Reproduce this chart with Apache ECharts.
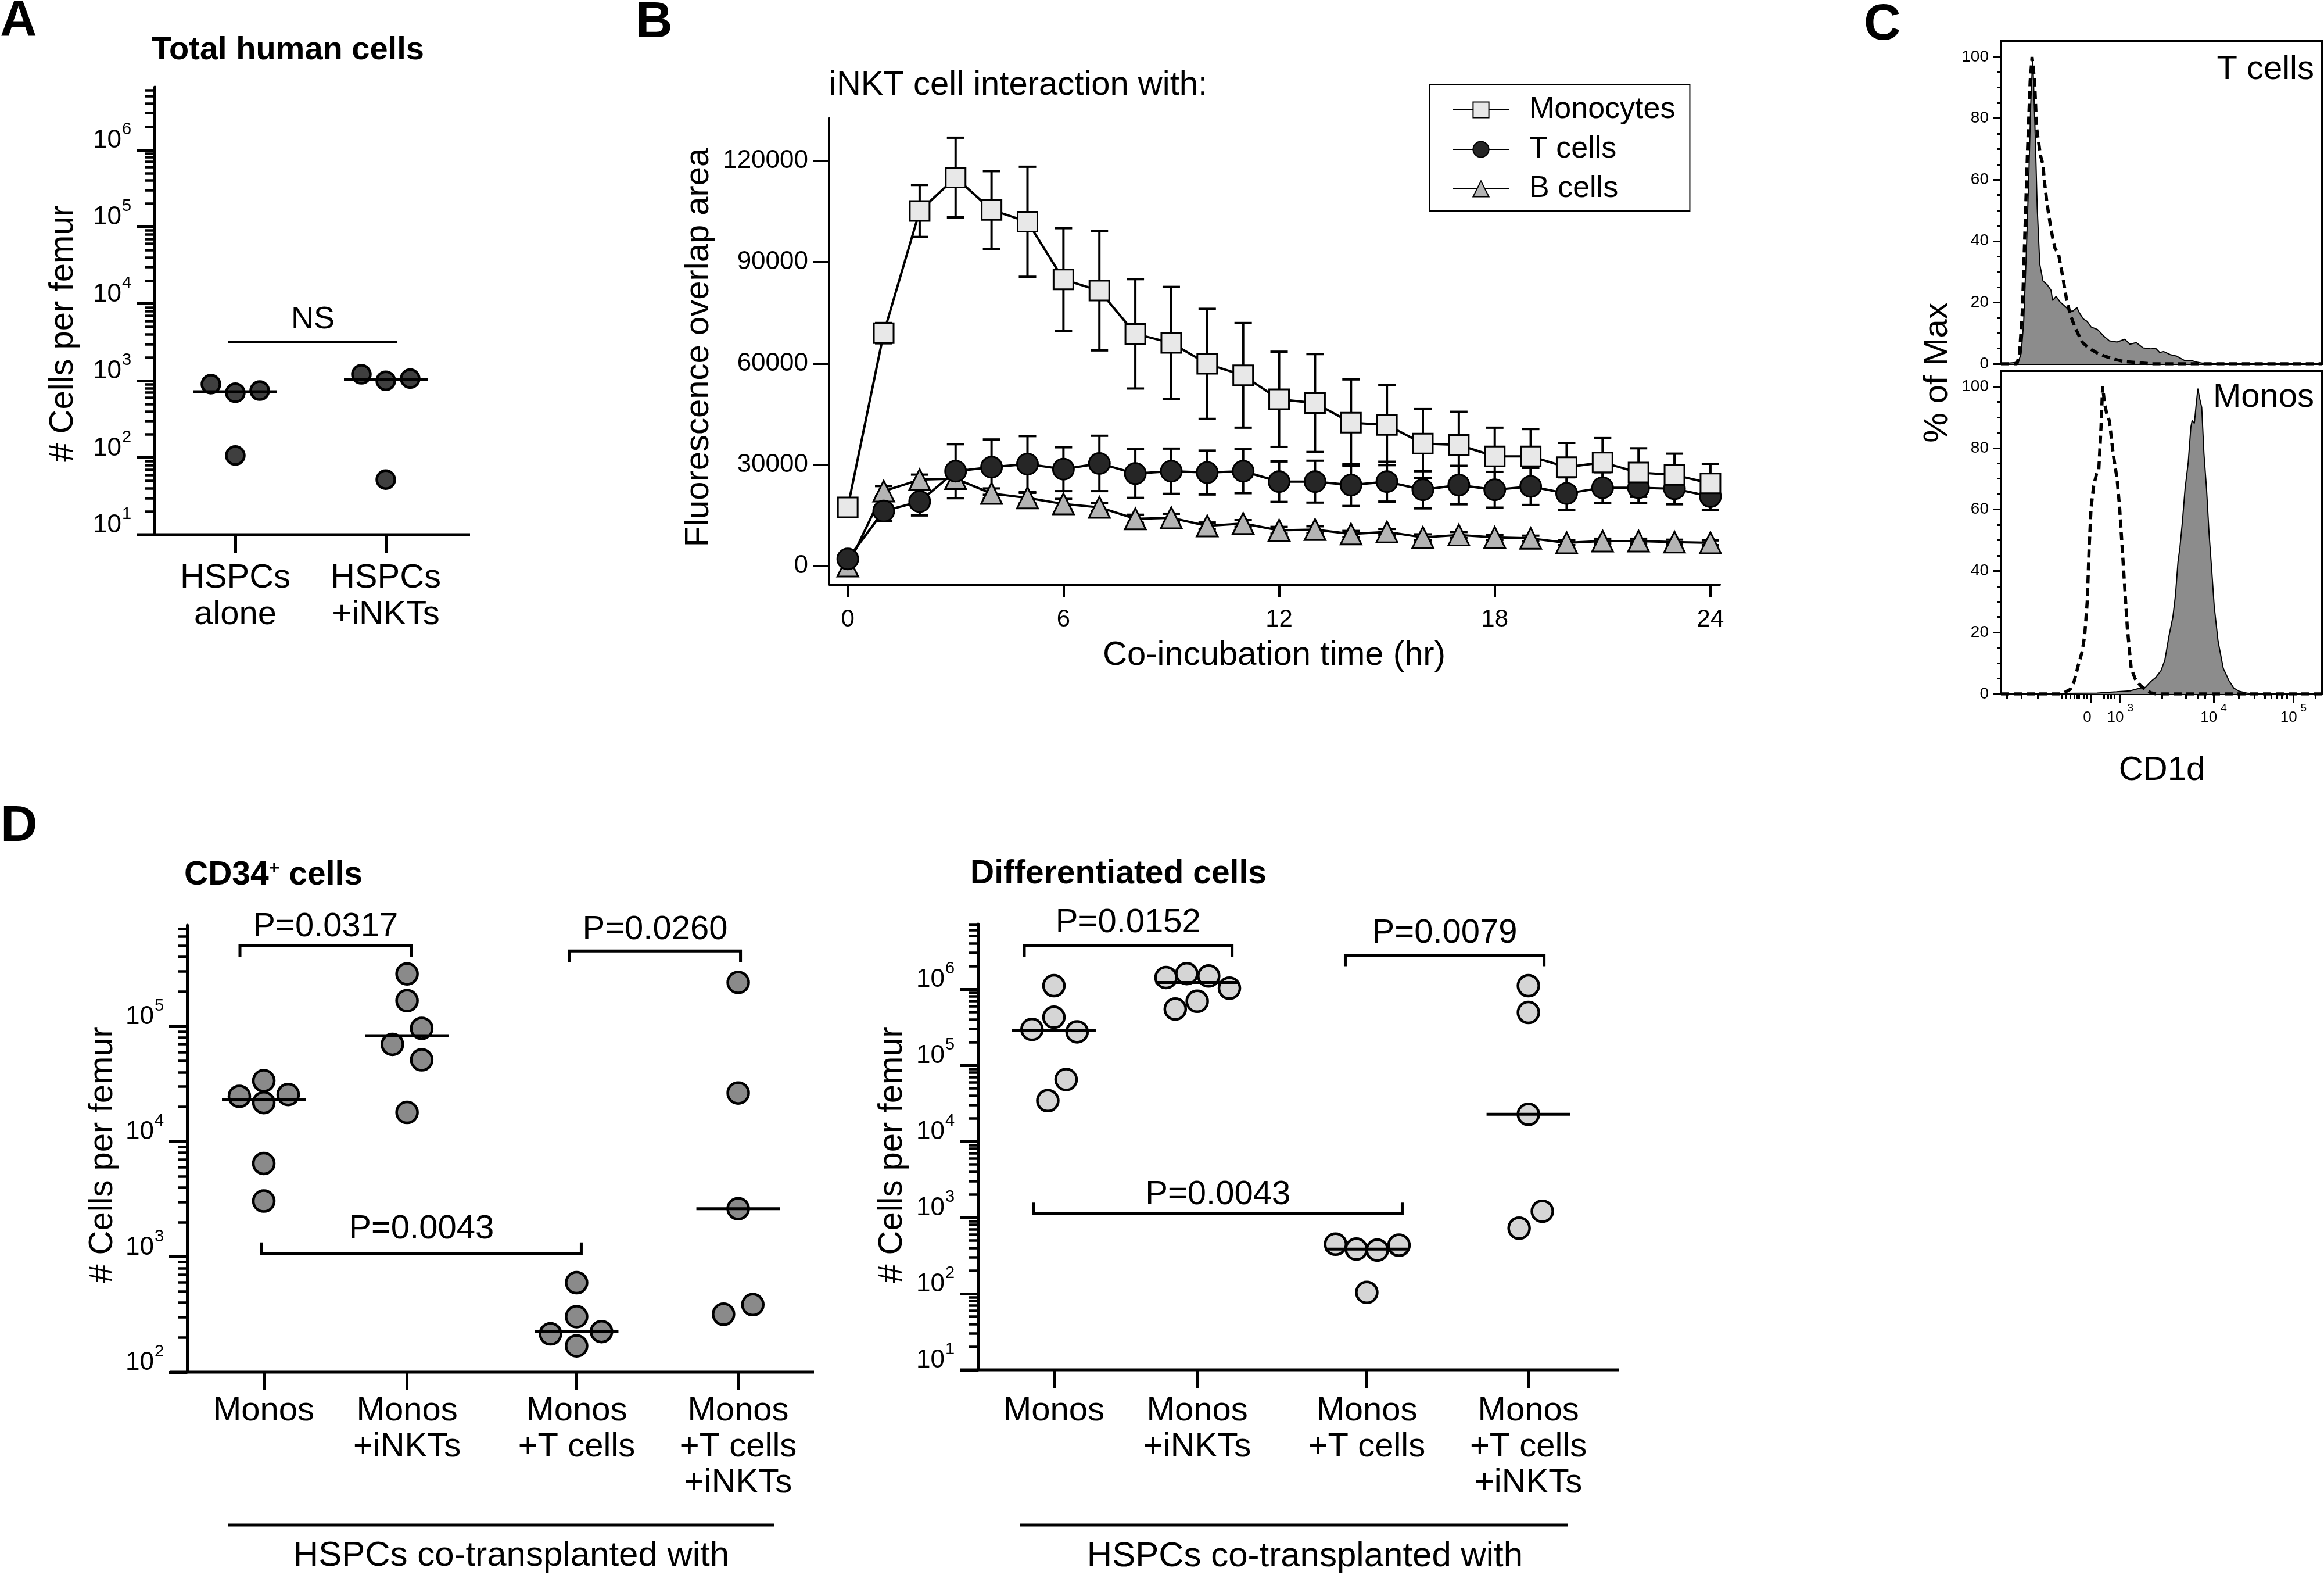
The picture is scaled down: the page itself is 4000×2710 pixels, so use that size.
<!DOCTYPE html>
<html><head><meta charset="utf-8">
<script src="https://cdn.jsdelivr.net/npm/echarts@6/dist/echarts.min.js"></script>
<style>html,body{margin:0;padding:0;background:#fff}#c{width:4000px;height:2710px}</style>
</head><body><div id="c"></div>
<script>
// ===================== DATA =====================
// Panel A: total human cells per femur
const aCategories = ['HSPCs\nalone', 'HSPCs\n+iNKTs'];
const aHSPCsAlone = [903, 699, 745, 107];
const aHSPCsINKTs = [1212, 1000, 1066, 52];
const aYTicks = [10, 100, 1000, 10000, 100000, 1000000];
const aBrackets = [{ from: 0, to: 1, value: 3190, label: 'NS', dir: 'none' }];

// Panel B: fluorescence overlap area vs co-incubation time
const bHours = [0,1,2,3,4,5,6,7,8,9,10,11,12,13,14,15,16,17,18,19,20,21,22,23,24];
const bMonocytes = [17400,69000,105200,115100,105500,102000,84900,81600,68800,66100,59900,56500,49400,48300,42500,41800,36300,35900,32500,32500,29300,30700,27700,27000,24500];
const bMonocytesErr = [0,3000,7700,11800,11500,16300,15200,17700,16200,16600,16300,15500,14100,14500,12800,11900,10200,9800,8500,8100,7200,7200,7200,6300,5800];
const bTcells = [2100,16300,19100,28100,29300,30200,28700,30400,27400,28100,27700,28100,25000,25000,24000,25000,22600,24000,22600,23600,21500,23200,23200,22900,20600];
const bTcellsErr = [0,3000,4100,8000,8200,8300,6500,8200,7200,6700,6500,6500,6000,6200,6200,5900,5500,5700,5300,5500,4800,4600,4500,4600,4000];
const bBcells = [0,22200,25600,25900,21500,20200,18400,17400,14000,14300,11900,12600,10600,10800,9500,10100,8500,9200,8500,8200,6900,7400,7400,7100,6900];
const bBcellsErr = [0,1500,1500,2000,1500,1500,1500,1200,1200,1200,1000,1000,1000,1000,900,900,900,900,800,800,700,700,700,700,700];
const bXTicks = [0, 6, 12, 18, 24];
const bYTicks = [0, 30000, 60000, 90000, 120000];

// Panel C: CD1d histograms (x in display channels 0..1000, y in % of max)
const cTcellsCD1dX = [0,54,63,71,79,87,93,99,107,113,121,131,144,156,161,172,184,200,216,224,237,245,257,269,281,301,321,338,362,386,402,422,443,467,483,495,507,528,548,572,596,612,629,709,1000];
const cTcellsCD1dY = [0,0.5,3.4,13.8,36,62,85,100,74,51,32.5,27,25.8,24,20.6,22,20.2,18.7,17.2,17.2,18.3,16.5,14.6,13.8,12,11.2,9,7.5,7.1,8,6.4,6.9,5.2,4.9,5,3.7,4,3,2.5,1.1,1,0.5,0.2,0,0];
const cTcellsIsoX = [0,50,58,67,75,83,91,97,105,111,123,131,135,143,156,168,180,192,204,216,232,253,273,297,321,354,386,426,467,1000];
const cTcellsIsoY = [0,0,3.4,17.6,44,70,92,100,92,77,68,65,60,52.7,43.8,37.8,35.5,28.8,21.3,16,11.6,7.1,5.2,3.7,2.6,1.5,0.7,0.4,0,0];
const cMonosCD1dX = [0,300,360,402,434,451,467,483,499,511,524,536,544,552,558,566,574,584,592,596,603,609,614,619,626,633,641,649,657,665,677,693,710,726,742,766,790,1000];
const cMonosCD1dY = [0,0.3,0.7,1,1.9,2.2,4,5.4,7.6,11,18.9,25,32,43,47.6,56.3,66.7,75.4,86.7,88.9,88,94.5,99.3,96.3,93.2,78,66.7,52,40.6,28.4,17.1,8.4,4.5,1.9,0.9,0.3,0,0];
const cMonosIsoX = [0,190,200,216,228,241,253,261,269,275,281,289,299,305,312,317,323,330,338,350,362,370,378,386,394,406,418,434,451,467,483,1000];
const cMonosIsoY = [0,0,0.6,1.5,4,9.3,13.7,18.9,30,47.6,60.6,67.6,72,72.8,86.7,100,94.5,91,88.9,78,70,60.6,47.6,34.5,21.5,8.4,5,2.8,1.3,0.4,0,0];
const cYTicks = [0, 20, 40, 60, 80, 100];
const cXTickChannels = [279, 372, 663, 912];
const cXTickLabels = ['0', '10^3', '10^4', '10^5'];
const cXMinorChannels = [18,63,115,188,204,216,228,236,244,257,269,321,333,342,354,503,576,612,637,742,790,823,843,859,875,891,980];

// Panel D: cells per femur
const dCategories = ['Monos', 'Monos\n+iNKTs', 'Monos\n+T cells', 'Monos\n+T cells\n+iNKTs'];
const dCD34Monos = [24700, 33700, 21800, 25600, 6460, 3050];
const dCD34MonosINKTs = [285000, 167000, 96000, 69800, 51200, 17900];
const dCD34MonosT = [597, 303, 215, 225, 169];
const dCD34MonosTINKTs = [240000, 26400, 2620, 318, 385];
const dDiffMonos = [1110000, 428000, 296000, 275000, 65000, 34300];
const dDiffMonosINKTs = [1420000, 1600000, 1490000, 1030000, 548000, 693000];
const dDiffMonosT = [447, 385, 374, 433, 104];
const dDiffMonosTINKTs = [1110000, 494000, 22700, 724, 1210];
const dCD34Brackets = [
  { from: 0, to: 1, value: 500000, label: 'P=0.0317', dir: 'down' },
  { from: 2, to: 3, value: 450000, label: 'P=0.0260', dir: 'down' },
  { from: 0, to: 2, value: 1070, label: 'P=0.0043', dir: 'up' }
];
const dDiffBrackets = [
  { from: 0, to: 1, value: 3740000, label: 'P=0.0152', dir: 'down' },
  { from: 2, to: 3, value: 2790000, label: 'P=0.0079', dir: 'down' },
  { from: 0, to: 2, value: 1125, label: 'P=0.0043', dir: 'up' }
];
const dCD34YTicks = [100, 1000, 10000, 100000];
const dDiffYTicks = [10, 100, 1000, 10000, 100000, 1000000];

// ===================== LAYOUT / STYLE =====================
const FONT = '"Liberation Sans", Arial, Helvetica, sans-serif';
const A_SLOTS = [0, 1];
const D_SLOTS = [0, 0.9, 1.965, 2.98];
const JIT = 42;
const aJitter = [[-1, 0, 1, 0], [-1, 0, 1, 0]];
const dCD34Jitter = [[-1, 0, 0, 1, 0, 0], [0, 0, 0.6, -0.6, 0.6, 0], [0, 0, -1.07, 1.02, 0], [0, 0, 0, -0.6, 0.6]];
const dDiffJitter = [[0, 0, -0.9, 0.95, 0.5, -0.25], [-1.28, -0.43, 0.47, 1.32, -0.9, 0], [-1.28, -0.43, 0.43, 1.32, 0], [0, 0, 0, -0.38, 0.57]];
const aBracketOffsets = [[-12, 20]], aBracketLabelDy = [38];
const dCD34BracketOffsets = [[-41, 7], [-12, 4], [-4, 8]], dCD34LabelDy = [32, 36, 42];
const dDiffBracketOffsets = [[-51, 60], [-37, 27], [-35, 61]], dDiffLabelDy = [39, 38, 32];
// log tick label placement relative to the axis line / tick
const LOG_LABEL_GAP = 57, LOG_BASE_DY = 16, LOG_SUP_DY = 35;

function median(arr) {
  const s = arr.slice().sort((a, b) => a - b), n = s.length;
  return n % 2 ? s[(n - 1) / 2] : (s[n / 2 - 1] + s[n / 2]) / 2;
}
function nearestIndex(list, v) {
  let bi = 0, bd = Infinity;
  list.forEach((s, i) => { const d = Math.abs(s - v); if (d < bd) { bd = d; bi = i; } });
  return bi;
}
function logMinorTicks(min, max) {
  const out = [];
  for (let e = Math.floor(Math.log10(min)); e <= Math.ceil(Math.log10(max)); e++) {
    for (let m = 2; m <= 9; m++) { const v = m * Math.pow(10, e); if (v > min && v < max) out.push(v); }
  }
  return out;
}
function linearMinor(min, max, step, majorStep) {
  const out = [];
  for (let v = min + step; v < max; v += step) { if (Math.abs(v / majorStep - Math.round(v / majorStep)) > 1e-6) out.push(v); }
  return out;
}
const pairs = (xs, ys) => xs.map((x, i) => [x, ys[i]]);

// ---------- axis builders ----------
function logAxisMajor(gridIndex, min, max, ticks) {
  return {
    type: 'log', logBase: 10, gridIndex, min, max, position: 'left',
    axisLine: { show: true, onZero: false, lineStyle: { color: '#000', width: 5 } },
    axisTick: { show: true, customValues: ticks, length: 31, lineStyle: { color: '#000', width: 5 } },
    axisLabel: { show: false },
    splitLine: { show: false }, minorTick: { show: false }, minorSplitLine: { show: false }
  };
}
function logAxisMinor(gridIndex, min, max) {
  return {
    type: 'log', logBase: 10, gridIndex, min, max, position: 'left',
    axisLine: { show: false, onZero: false },
    axisTick: { show: true, customValues: logMinorTicks(min, max), length: 16, lineStyle: { color: '#000', width: 4.5 } },
    axisLabel: { show: false }, splitLine: { show: false }
  };
}
function catXAxis(gridIndex, min, max, slots, cats, margin, lh) {
  return {
    type: 'value', gridIndex, min, max, position: 'bottom',
    axisLine: { show: false, onZero: false },
    axisTick: { show: true, customValues: slots, length: 31, lineStyle: { color: '#000', width: 5 } },
    axisLabel: {
      show: true, customValues: slots, margin, formatter: v => cats[nearestIndex(slots, v)],
      fontSize: 58, lineHeight: lh, fontFamily: FONT, color: '#000', align: 'center'
    },
    splitLine: { show: false }
  };
}
function cYAxisMajor(gridIndex) {
  return {
    type: 'value', gridIndex, min: 0, max: 105.1, position: 'left',
    axisLine: { show: false, onZero: false },
    axisTick: { show: true, customValues: cYTicks, length: 14, lineStyle: { color: '#000', width: 3 } },
    axisLabel: { show: true, customValues: cYTicks, margin: 21, fontSize: 28, fontFamily: FONT, color: '#000' },
    splitLine: { show: false }
  };
}
function cYAxisMinor(gridIndex) {
  return {
    type: 'value', gridIndex, min: 0, max: 105.1, position: 'left',
    axisLine: { show: false, onZero: false },
    axisTick: { show: true, customValues: linearMinor(0, 100, 5, 20), length: 7, lineStyle: { color: '#000', width: 3 } },
    axisLabel: { show: false }, splitLine: { show: false }
  };
}

// ---------- series builders ----------
// "10^n" tick labels of a log axis, placed at each tick through the axis scale
function logLabelSeries(xi, yi, slotX, ticks) {
  return {
    type: 'custom', xAxisIndex: xi, yAxisIndex: yi, z: 10, clip: false, silent: true,
    data: ticks.map(t => [slotX, t]),
    encode: { x: 0, y: 1 },
    renderItem(params, api) {
      const p = api.coord([api.value(0), api.value(1)]);
      const xr = params.coordSys.x - LOG_LABEL_GAP;
      const exp = String(Math.round(Math.log10(api.value(1))));
      return { type: 'group', children: [
        { type: 'text', x: xr, y: p[1] - LOG_BASE_DY,
          style: { text: '10', fontSize: 44, fontFamily: FONT, fill: '#000', align: 'right', verticalAlign: 'middle' } },
        { type: 'text', x: xr + 1, y: p[1] - LOG_SUP_DY,
          style: { text: exp, fontSize: 29, fontFamily: FONT, fill: '#000', align: 'left', verticalAlign: 'middle' } }
      ] };
    }
  };
}
function dotSeries(xi, yi, slots, groups, jitter, fill, r) {
  const data = [];
  groups.forEach((vals, g) => vals.forEach((v, i) => data.push([slots[g], v, jitter[g][i]])));
  return {
    type: 'custom', xAxisIndex: xi, yAxisIndex: yi, z: 5, clip: false, data,
    encode: { x: 0, y: 1 },
    renderItem(params, api) {
      const p = api.coord([api.value(0), api.value(1)]);
      return { type: 'circle', shape: { cx: p[0] + api.value(2) * JIT, cy: p[1], r },
        style: { fill, stroke: '#000', lineWidth: 4.5 } };
    }
  };
}
function medianSeries(xi, yi, slots, groups, halfW) {
  return {
    type: 'custom', xAxisIndex: xi, yAxisIndex: yi, z: 6, clip: false,
    data: groups.map((vals, g) => [slots[g], median(vals)]),
    encode: { x: 0, y: 1 },
    renderItem(params, api) {
      const p = api.coord([api.value(0), api.value(1)]);
      return { type: 'line', shape: { x1: p[0] - halfW, y1: p[1], x2: p[0] + halfW, y2: p[1] },
        style: { stroke: '#000', lineWidth: 5 } };
    }
  };
}
function bracketSeries(xi, yi, slots, brackets, offsets, labelDy, fontSize) {
  return {
    type: 'custom', xAxisIndex: xi, yAxisIndex: yi, z: 7, clip: false,
    data: brackets.map((b, i) => [slots[b.from], slots[b.to], b.value, i]),
    encode: { x: 0, y: 2 },
    renderItem(params, api) {
      const i = api.value(3), b = brackets[i], o = offsets[i];
      const p1 = api.coord([api.value(0), api.value(2)]);
      const p2 = api.coord([api.value(1), api.value(2)]);
      const x1 = p1[0] + o[0], x2 = p2[0] + o[1], y = p1[1];
      const t = b.dir === 'up' ? -19 : (b.dir === 'down' ? 19 : 0);
      const pts = t ? [[x1, y + t], [x1, y], [x2, y], [x2, y + t]] : [[x1, y], [x2, y]];
      return { type: 'group', children: [
        { type: 'polyline', shape: { points: pts }, style: { stroke: '#000', lineWidth: 5, fill: null } },
        { type: 'text', x: (x1 + x2) / 2, y: y - labelDy[i],
          style: { text: b.label, fontSize, fontFamily: FONT, fill: '#000', align: 'center', verticalAlign: 'middle' } }
      ] };
    }
  };
}
function errorSeries(means, errs) {
  return {
    type: 'custom', xAxisIndex: 1, yAxisIndex: 2, z: 1, clip: false,
    data: bHours.map((t, i) => [t, means[i], errs[i]]),
    encode: { x: 0, y: 1 },
    renderItem(params, api) {
      const t = api.value(0), m = api.value(1), e = api.value(2);
      if (!(e > 0)) return { type: 'group', children: [] };
      const top = api.coord([t, m + e]), bot = api.coord([t, m - e]), w = 15;
      const st = { stroke: '#000', lineWidth: 4 };
      return { type: 'group', children: [
        { type: 'line', shape: { x1: top[0], y1: top[1], x2: bot[0], y2: bot[1] }, style: st },
        { type: 'line', shape: { x1: top[0] - w, y1: top[1], x2: top[0] + w, y2: top[1] }, style: st },
        { type: 'line', shape: { x1: bot[0] - w, y1: bot[1], x2: bot[0] + w, y2: bot[1] }, style: st }
      ] };
    }
  };
}
function timeLine(name, means, symbol, size, fill) {
  return {
    name, type: 'line', xAxisIndex: 1, yAxisIndex: 2, z: 3,
    data: bHours.map((t, i) => [t, means[i]]),
    symbol, symbolSize: size, showSymbol: true,
    itemStyle: { color: fill, borderColor: '#000', borderWidth: 3 },
    lineStyle: { color: '#000', width: 4 }
  };
}
function histFill(xi, yi, xs, ys) {
  return { type: 'line', xAxisIndex: xi, yAxisIndex: yi, z: 2, data: pairs(xs, ys), showSymbol: false, symbol: 'none',
    lineStyle: { color: '#000', width: 2 }, areaStyle: { color: '#8c8c8c', opacity: 1 } };
}
function histDash(xi, yi, xs, ys) {
  return { type: 'line', xAxisIndex: xi, yAxisIndex: yi, z: 3, data: pairs(xs, ys), showSymbol: false, symbol: 'none',
    lineStyle: { color: '#000', width: 5.5, type: [14, 8] } };
}

// ---------- graphic helpers ----------
function txt(text, x, y, size, opts) {
  opts = opts || {};
  return { type: 'text', x, y, rotation: opts.rot || 0, z: 100,
    style: { text, fontSize: size, fontFamily: FONT, fontWeight: opts.bold ? 'bold' : 'normal', fill: '#000',
      align: opts.align || 'center', verticalAlign: 'middle', rich: opts.rich } };
}
function hline(x1, x2, y, w) {
  return { type: 'line', z: 50, shape: { x1, y1: y, x2, y2: y }, style: { stroke: '#000', lineWidth: w || 5 } };
}

// ===================== CHART =====================
const A_MAX = 6.53e6, DL_MAX = 7.53e5, DR_MAX = 7.16e6;
const chart = echarts.init(document.getElementById('c'), null, { renderer: 'canvas', width: 4000, height: 2710 });
const option = {
  animation: false,
  backgroundColor: '#fff',
  textStyle: { fontFamily: FONT, color: '#000' },
  grid: [
    { left: 266, top: 150, width: 543, height: 770, outerBoundsMode: 'none', containLabel: false },
    { left: 1427, top: 203, width: 1533, height: 803, outerBoundsMode: 'none', containLabel: false },
    { left: 3444, top: 71, width: 552, height: 555, show: true, borderColor: '#000', borderWidth: 4, outerBoundsMode: 'none', containLabel: false },
    { left: 3444, top: 638, width: 552, height: 556, show: true, borderColor: '#000', borderWidth: 4, outerBoundsMode: 'none', containLabel: false },
    { left: 322, top: 1592, width: 1079, height: 769, outerBoundsMode: 'none', containLabel: false },
    { left: 1683, top: 1590, width: 1103, height: 767, outerBoundsMode: 'none', containLabel: false }
  ],
  xAxis: [
    catXAxis(0, -0.5367, 1.5598, A_SLOTS, aCategories, 43, 63),
    { type: 'value', gridIndex: 1, min: -0.52, max: 24.26, position: 'bottom',
      axisLine: { show: true, onZero: false, lineStyle: { color: '#000', width: 4 } },
      axisTick: { show: true, customValues: bXTicks, length: 22, lineStyle: { color: '#000', width: 4 } },
      axisLabel: { show: true, customValues: bXTicks, margin: 39, fontSize: 42, lineHeight: 42, fontFamily: FONT, color: '#000' },
      splitLine: { show: false } },
    { type: 'value', gridIndex: 2, min: 0, max: 1000, show: false, axisLine: { onZero: false }, splitLine: { show: false } },
    { type: 'value', gridIndex: 3, min: 0, max: 1000, position: 'bottom',
      axisLine: { show: false, onZero: false },
      axisTick: { show: true, customValues: cXTickChannels, length: 16, lineStyle: { color: '#000', width: 3 } },
      axisLabel: { show: true, customValues: cXTickChannels, margin: 15, verticalAlign: 'top',
        fontSize: 26, lineHeight: 26, fontFamily: FONT, color: '#000',
        formatter: v => { const l = cXTickLabels[nearestIndex(cXTickChannels, v)]; const p = l.split('^');
          return p.length > 1 ? p[0] + '{s|' + p[1] + '}' : p[0] + '{s| }'; },
        rich: { s: { fontSize: 19, fontFamily: FONT, color: '#000', lineHeight: 52, verticalAlign: 'top', padding: [0, 0, 0, 6] } } },
      splitLine: { show: false } },
    { type: 'value', gridIndex: 3, min: 0, max: 1000, position: 'bottom',
      axisLine: { show: false, onZero: false },
      axisTick: { show: true, customValues: cXMinorChannels, length: 8, lineStyle: { color: '#000', width: 3 } },
      axisLabel: { show: false }, splitLine: { show: false } },
    catXAxis(4, -0.4818, 3.456, D_SLOTS, dCategories, 36, 62),
    catXAxis(5, -0.478, 3.547, D_SLOTS, dCategories, 40, 62)
  ],
  yAxis: [
    logAxisMajor(0, 10, A_MAX, aYTicks),
    logAxisMinor(0, 10, A_MAX),
    { type: 'value', gridIndex: 1, min: -5510, max: 132740, position: 'left',
      axisLine: { show: true, onZero: false, lineStyle: { color: '#000', width: 4 } },
      axisTick: { show: true, customValues: bYTicks, length: 27, lineStyle: { color: '#000', width: 4 } },
      axisLabel: { show: true, customValues: bYTicks, margin: 36, fontSize: 44, fontFamily: FONT, color: '#000', formatter: v => String(v) },
      splitLine: { show: false } },
    cYAxisMajor(2), cYAxisMinor(2), cYAxisMajor(3), cYAxisMinor(3),
    logAxisMajor(4, 100, DL_MAX, dCD34YTicks),
    logAxisMinor(4, 100, DL_MAX),
    logAxisMajor(5, 10, DR_MAX, dDiffYTicks),
    logAxisMinor(5, 10, DR_MAX)
  ],
  legend: {
    data: ['Monocytes', 'T cells', 'B cells'],
    left: 2460, top: 145, orient: 'vertical',
    itemWidth: 96, itemHeight: 34, itemGap: 16,
    padding: [18, 25, 12, 40],
    borderColor: '#000', borderWidth: 2, backgroundColor: '#fff',
    textStyle: { fontSize: 52, fontFamily: FONT, color: '#000', padding: [0, 0, 0, 30] }
  },
  series: [
    // A
    logLabelSeries(0, 0, 0, aYTicks),
    dotSeries(0, 0, A_SLOTS, [aHSPCsAlone, aHSPCsINKTs], aJitter, '#3f3f3f', 15.5),
    medianSeries(0, 0, A_SLOTS, [aHSPCsAlone, aHSPCsINKTs], 72),
    bracketSeries(0, 0, A_SLOTS, aBrackets, aBracketOffsets, aBracketLabelDy, 54),
    // B
    errorSeries(bBcells, bBcellsErr),
    errorSeries(bTcells, bTcellsErr),
    errorSeries(bMonocytes, bMonocytesErr),
    timeLine('B cells', bBcells, 'triangle', 36, '#b4b4b4'),
    timeLine('T cells', bTcells, 'circle', 36, '#262626'),
    timeLine('Monocytes', bMonocytes, 'rect', 34, '#e8e8e8'),
    // C
    histFill(2, 3, cTcellsCD1dX, cTcellsCD1dY),
    histDash(2, 3, cTcellsIsoX, cTcellsIsoY),
    histFill(3, 5, cMonosCD1dX, cMonosCD1dY),
    histDash(3, 5, cMonosIsoX, cMonosIsoY),
    // D left
    logLabelSeries(5, 7, 0, dCD34YTicks),
    dotSeries(5, 7, D_SLOTS, [dCD34Monos, dCD34MonosINKTs, dCD34MonosT, dCD34MonosTINKTs], dCD34Jitter, '#8a8a8a', 18),
    medianSeries(5, 7, D_SLOTS, [dCD34Monos, dCD34MonosINKTs, dCD34MonosT, dCD34MonosTINKTs], 72),
    bracketSeries(5, 7, D_SLOTS, dCD34Brackets, dCD34BracketOffsets, dCD34LabelDy, 58),
    // D right
    logLabelSeries(6, 9, 0, dDiffYTicks),
    dotSeries(6, 9, D_SLOTS, [dDiffMonos, dDiffMonosINKTs, dDiffMonosT, dDiffMonosTINKTs], dDiffJitter, '#d5d5d5', 18),
    medianSeries(6, 9, D_SLOTS, [dDiffMonos, dDiffMonosINKTs, dDiffMonosT, dDiffMonosTINKTs], 72),
    bracketSeries(6, 9, D_SLOTS, dDiffBrackets, dDiffBracketOffsets, dDiffLabelDy, 58)
  ],
  graphic: [
    // panel letters
    txt('A', 0, 37, 88, { bold: true, align: 'left' }),
    txt('B', 1094, 40, 88, { bold: true, align: 'left' }),
    txt('C', 3208, 44, 88, { bold: true, align: 'left' }),
    txt('D', 1, 1423, 88, { bold: true, align: 'left' }),
    // A
    txt('Total human cells', 261, 87, 56, { bold: true, align: 'left' }),
    txt('# Cells per femur', 109, 574, 58, { rot: Math.PI / 2 }),
    hline(235, 809, 920, 5),
    // B
    txt('iNKT cell interaction with:', 1427, 147, 58, { align: 'left' }),
    txt('Fluorescence overlap area', 1203, 598, 58, { rot: Math.PI / 2 }),
    txt('Co-incubation time (hr)', 2193, 1128, 58),
    // C
    txt('T cells', 3983, 120, 58, { align: 'right' }),
    txt('Monos', 3983, 684, 58, { align: 'right' }),
    txt('% of Max', 3335, 641, 58, { rot: Math.PI / 2 }),
    txt('CD1d', 3721, 1326, 58),
    // D left
    txt('{a|CD34}{p|+}{a| cells}', 317, 1506, 57, { align: 'left', rich: {
      a: { fontSize: 57, fontWeight: 'bold', fontFamily: FONT, color: '#000', lineHeight: 56 },
      p: { fontSize: 32, fontWeight: 'bold', fontFamily: FONT, color: '#000', lineHeight: 40, verticalAlign: 'top' } } }),
    txt('# Cells per femur', 177, 1987, 58, { rot: Math.PI / 2 }),
    hline(292, 1401, 2361, 5),
    hline(392, 1333, 2624, 5),
    txt('HSPCs co-transplanted with', 880, 2677, 60),
    // D right
    txt('Differentiated cells', 1670, 1504, 57, { bold: true, align: 'left' }),
    txt('# Cells per femur', 1536, 1987, 58, { rot: Math.PI / 2 }),
    hline(1652, 2786, 2357, 5),
    hline(1756, 2699, 2624, 5),
    txt('HSPCs co-transplanted with', 2246, 2678, 60)
  ]
};
chart.setOption(option);
</script>
</body></html>
